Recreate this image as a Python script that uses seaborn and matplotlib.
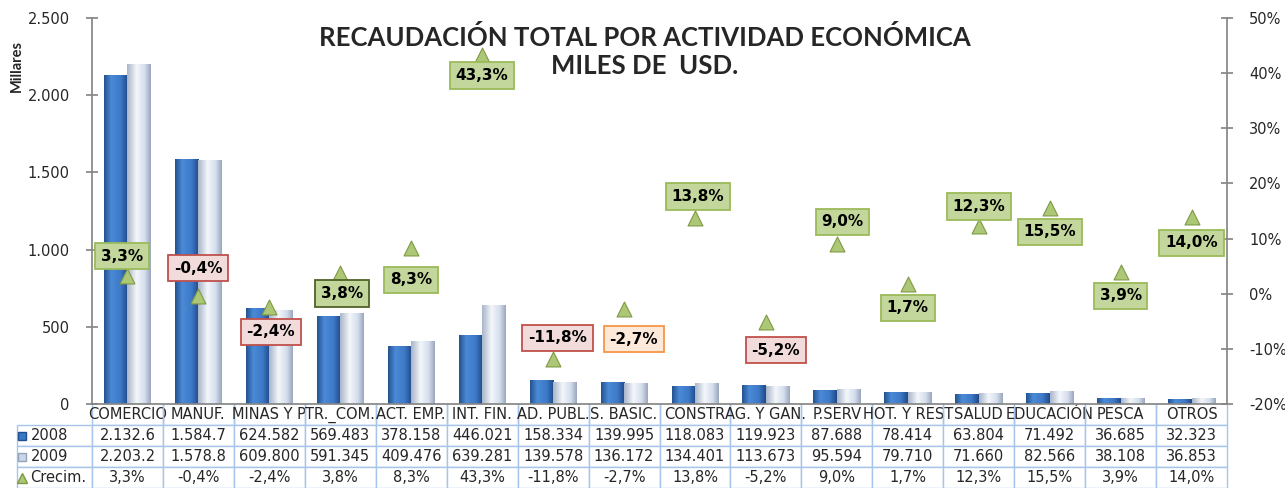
import numpy as np
import pandas as pd
import matplotlib
matplotlib.use("Agg")
import matplotlib.pyplot as plt
import seaborn as sns
from matplotlib.colors import LinearSegmentedColormap
from matplotlib.ticker import FuncFormatter

# Data (thousands USD)
categories = ["COMERCIO", "MANUF.", "MINAS Y P", "TR._COM.", "ACT. EMP.", "INT. FIN.",
              "AD. PUBL.", "S. BASIC.", "CONSTR", "AG. Y GAN.", "P.SERV", "HOT. Y REST",
              "SALUD", "EDUCACIÓN", "PESCA", "OTROS"]
values_2008 = [2132.6, 1584.7, 624.582, 569.483, 378.158, 446.021, 158.334, 139.995,
               118.083, 119.923, 87.688, 78.414, 63.804, 71.492, 36.685, 32.323]
values_2009 = [2203.2, 1578.8, 609.800, 591.345, 409.476, 639.281, 139.578, 136.172,
               134.401, 113.673, 95.594, 79.710, 71.660, 82.566, 38.108, 36.853]
growth = [3.3, -0.4, -2.4, 3.8, 8.3, 43.3, -11.8, -2.7,
          13.8, -5.2, 9.0, 1.7, 12.3, 15.5, 3.9, 14.0]
years = ["2008", "2009"]

# label box offsets from the triangle (points) - layout only
label_dx = [-4, 0, 1, 1, 0, 0, 3, 7, 2, 7, 4, 0, 0, 0, 0, 0]
label_dy = [14, 20, -18, -15, -23, -15, 15, -22, 15, -20, 16, -17, 14, -17, -17, -19]

sns.set_theme(style="white")
plt.rcParams["font.family"] = ["DejaVu Sans"]

df = pd.DataFrame({
    "cat": categories * 2,
    "year": [years[0]] * len(categories) + [years[1]] * len(categories),
    "val": values_2008 + values_2009,
})

W, H = 1285, 488
fig = plt.figure(figsize=(W / 100, H / 100), dpi=100)
ax = fig.add_axes([92 / W, 1 - 404 / H, 1135 / W, 386 / H])

sns.barplot(data=df, x="cat", y="val", hue="year", palette=["#3a78c6", "#c9d5e8"],
            width=0.66, saturation=1, legend=False, ax=ax)

# cylinder-like shading for the bars
cmaps = [
    LinearSegmentedColormap.from_list("b", [(0, "#24528f"), (0.3, "#4a8ad6"), (0.7, "#3d79c6"), (1, "#21498a")]),
    LinearSegmentedColormap.from_list("g", [(0, "#a9b5ca"), (0.4, "#f4f7fb"), (0.75, "#d3ddec"), (1, "#9aa7bd")]),
]
n = len(categories)
for k, patch in enumerate(list(ax.patches)):
    cm = cmaps[k // n]
    x0, y0 = patch.get_x(), patch.get_y()
    w, h = patch.get_width(), patch.get_height()
    grad = cm(np.linspace(0, 1, 64))[None, :, :]
    im = ax.imshow(grad, extent=[x0, x0 + w, y0, y0 + h], aspect="auto", zorder=2)
    im.set_clip_path(patch)
    patch.set_facecolor("none")
    patch.set_edgecolor("none")

ax.set_xlim(-0.5, n - 0.5)
ax.set_ylim(0, 2500)
ax.set_yticks(np.arange(0, 2501, 500))
ax.yaxis.set_major_formatter(FuncFormatter(lambda v, p: f"{v:,.0f}".replace(",", ".")))
ax.set_xlabel("")
ax.set_ylabel("")
ax.tick_params(axis="x", length=0, labelbottom=False)
ax.tick_params(axis="y", left=True, direction="inout", length=8, color="#868686",
               labelsize=10.5, pad=12)
for s in ["top", "right"]:
    ax.spines[s].set_visible(False)
for s in ["left", "bottom"]:
    ax.spines[s].set_color("#868686")

# growth on secondary axis
ax2 = ax.twinx()
sns.scatterplot(x=np.arange(n), y=growth, marker="^", s=115, color="#acc775",
                edgecolor="#7f9a45", linewidth=0.8, zorder=5, legend=False, ax=ax2)
ax2.set_ylim(-20, 50)
ax2.set_yticks(np.arange(-20, 51, 10))
ax2.yaxis.set_major_formatter(FuncFormatter(lambda v, p: f"{v:.0f}%"))
ax2.tick_params(axis="y", right=True, direction="inout", length=8, color="#868686",
                labelsize=10.5, pad=12)
for s in ["top", "left", "bottom"]:
    ax2.spines[s].set_visible(False)
ax2.spines["right"].set_color("#868686")

for i, g in enumerate(growth):
    if i == 7:
        fc, ec = "#fde9d9", "#f79646"
    elif g < 0:
        fc, ec = "#f2dcdb", "#c0504d"
    else:
        fc, ec = "#c3d69b", "#4f6228" if i == 3 else "#9bbb59"
    ax2.annotate(f"{g:.1f}%".replace(".", ","), xy=(i, g), xytext=(label_dx[i], label_dy[i]),
                 textcoords="offset points", ha="center", va="center", fontsize=11,
                 fontweight="bold", color="black", zorder=6,
                 bbox=dict(boxstyle="square,pad=0.38", fc=fc, ec=ec, lw=1.3))


def fmt_val(v):
    return f"{v:,.1f}".replace(",", ".") if v >= 1000 else f"{v:.3f}"


cell_text = [[""] + categories,
             ["2008"] + [fmt_val(v) for v in values_2008],
             ["2009"] + [fmt_val(v) for v in values_2009],
             ["Crecim."] + [f"{g:.1f}%".replace(".", ",") for g in growth]]
tw = 75 / 1135
th = 84 / 386
tab = ax.table(cellText=cell_text, colWidths=[tw] + [1 / n] * n, cellLoc="center",
               bbox=[-tw, -th, 1 + tw, th])
tab.auto_set_font_size(False)
tab.set_fontsize(10.5)
for (r, c), cell in tab.get_celld().items():
    cell.set_edgecolor("#a7c5ea")
    cell.set_linewidth(1)
    cell.set_facecolor("white")
    if r == 0 and c == 0:
        cell.visible_edges = ""
        cell.set_facecolor("none")
    elif r == 0:
        cell.visible_edges = "BLR"
    if c == 0 and r > 0:
        cell.get_text().set_ha("left")
        cell.PAD = 0.18

# legend keys in the table row headers
row_y = [-(21 * 1.5) / 386, -(21 * 2.5) / 386, -(21 * 3.5) / 386]
kx = (22 - 92) / 1135
ax.plot([kx], [row_y[0]], marker="s", ms=6, color="#3a78c6", mec="#224f8e",
        transform=ax.transAxes, clip_on=False)
ax.plot([kx], [row_y[1]], marker="s", ms=6, color="#c9d5e8", mec="#95a3ba",
        transform=ax.transAxes, clip_on=False)
ax.plot([kx], [row_y[2]], marker="^", ms=7, color="#acc775", mec="#7f9a45",
        transform=ax.transAxes, clip_on=False)

fig.text(645 / W, 1 - 37 / H, "RECAUDACIÓN TOTAL POR ACTIVIDAD ECONÓMICA", ha="center",
         va="center", fontsize=18.5, fontweight="bold", family=["Lato", "DejaVu Sans"])
fig.text(645 / W, 1 - 66 / H, "MILES DE  USD.", ha="center", va="center", fontsize=18.5,
         fontweight="bold", family=["Lato", "DejaVu Sans"])
fig.text(17 / W, 1 - 66 / H, "Millares", rotation=90, ha="center", va="center",
         fontsize=10.5, fontweight="bold", family=["Lato", "DejaVu Sans"])

fig.savefig("out.png", dpi=100)
